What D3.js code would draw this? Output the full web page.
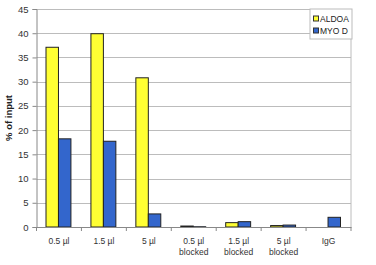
<!DOCTYPE html>
<html>
<head>
<meta charset="utf-8">
<script src="https://cdnjs.cloudflare.com/ajax/libs/d3/7.8.5/d3.min.js"></script>
<style>
  body { margin: 0; background: #fff; }
  svg { font-family: "Liberation Sans", Arial, sans-serif; }
</style>
</head>
<body>
<svg id="chart" width="376" height="265"></svg>
<script>
var categories = ["0.5 µl", "1.5 µl", "5 µl", "0.5 µl\nblocked", "1.5 µl\nblocked", "5 µl\nblocked", "IgG"];
var seriesNames = ["ALDOA", "MYO D"];
var aldoa = [37.1, 39.9, 30.8, 0.2, 0.9, 0.3, 0];
var myod = [18.2, 17.7, 2.7, 0.05, 1.1, 0.4, 2.0];
var yTicks = [0, 5, 10, 15, 20, 25, 30, 35, 40, 45];
var colors = ["#ffff33", "#3366cc"];

var svg = d3.select("#chart");
var margin = {left: 36.5, right: 25, top: 9, bottom: 38};
var width = 376 - margin.left - margin.right,
    height = 265 - margin.top - margin.bottom;

var g = svg.append("g")
    .attr("transform", "translate(" + margin.left + "," + margin.top + ")");

var x = d3.scaleBand().domain(categories).range([0, width]).paddingInner(0).paddingOuter(0);
var x1 = d3.scaleBand().domain(seriesNames).range([9.5, x.bandwidth() - 10.5]);
var y = d3.scaleLinear().domain([0, 45]).range([height, 0]);

// gridlines
g.selectAll(".grid")
    .data(yTicks.slice(1))
    .enter()
    .append("line")
    .attr("x1", 0)
    .attr("x2", width)
    .attr("y1", function(d) { return Math.round(y(d)) + 0.5; })
    .attr("y2", function(d) { return Math.round(y(d)) + 0.5; })
    .attr("stroke", "#bcbcbc")
    .attr("stroke-width", 1);

// right border
g.append("line")
    .attr("x1", width).attr("x2", width)
    .attr("y1", 0).attr("y2", height)
    .attr("stroke", "#bcbcbc");

var rows = categories.map(function(c, i) {
    return {cat: c, values: [aldoa[i], myod[i]]};
});

g.selectAll(".group")
    .data(rows)
    .enter()
    .append("g")
    .attr("transform", function(d) { return "translate(" + x(d.cat) + ",0)"; })
    .selectAll("rect")
    .data(function(d) {
        return d.values.map(function(v, j) { return {name: seriesNames[j], v: v, j: j}; });
    })
    .enter()
    .append("rect")
    .attr("x", function(d) { return x1(d.name); })
    .attr("width", x1.bandwidth())
    .attr("y", function(d) { return y(d.v); })
    .attr("height", function(d) { return height - y(d.v); })
    .attr("fill", function(d) { return colors[d.j]; })
    .attr("stroke", function(d) { return d.v > 0 ? "#222" : "none"; })
    .attr("stroke-width", 1);

// y axis
var yAxis = g.append("g")
    .call(d3.axisLeft(y).tickValues(yTicks).tickSize(4).tickPadding(4));
yAxis.select(".domain").attr("stroke", "#888");
yAxis.selectAll(".tick line").attr("stroke", "#888");
yAxis.selectAll("text").style("font-size", "9.5px").attr("fill", "#333");

// x axis
var xAxis = g.append("g")
    .attr("transform", "translate(0," + height + ")")
    .call(d3.axisBottom(x).tickSize(0).tickFormat(""));
xAxis.select(".domain").attr("stroke", "#888");

g.selectAll(".xtick")
    .data(d3.range(categories.length + 1))
    .enter()
    .append("line")
    .attr("x1", function(i) { return i * x.bandwidth(); })
    .attr("x2", function(i) { return i * x.bandwidth(); })
    .attr("y1", height)
    .attr("y2", height + 4)
    .attr("stroke", "#888");

g.selectAll(".xlabel")
    .data(categories)
    .enter()
    .append("text")
    .attr("text-anchor", "middle")
    .attr("x", function(d) { return x(d) + x.bandwidth() / 2; })
    .attr("y", height + 17)
    .style("font-size", "8.5px")
    .attr("fill", "#333")
    .each(function(d) {
        var t = d3.select(this);
        d.split("\n").forEach(function(line, i) {
            t.append("tspan")
                .attr("x", t.attr("x"))
                .attr("dy", i === 0 ? 0 : "1.35em")
                .text(line);
        });
    });

// y label
svg.append("text")
    .attr("transform", "translate(12," + (margin.top + height / 2) + ") rotate(-90)")
    .attr("text-anchor", "middle")
    .style("font-size", "9.5px")
    .style("font-weight", "bold")
    .attr("fill", "#222")
    .text("% of input");

// legend
var legend = svg.append("g").attr("transform", "translate(310,9)");
legend.append("rect")
    .attr("width", 42).attr("height", 30)
    .attr("fill", "#fff")
    .attr("stroke", "#bbb");
seriesNames.forEach(function(name, i) {
    legend.append("rect")
        .attr("x", 3.5).attr("y", 7 + i * 12)
        .attr("width", 5).attr("height", 5)
        .attr("fill", colors[i])
        .attr("stroke", "#333");
    legend.append("text")
        .attr("x", 10).attr("y", 12.5 + i * 12)
        .style("font-size", "8.5px")
        .attr("fill", "#222")
        .text(name);
});
</script>
</body>
</html>
